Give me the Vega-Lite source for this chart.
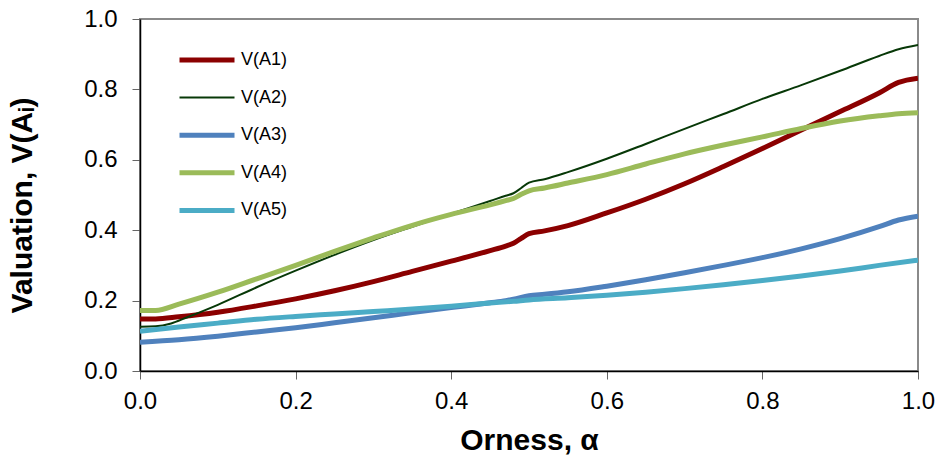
{
  "$schema": "https://vega.github.io/schema/vega-lite/v6.json",
  "width": 778,
  "height": 352,
  "autosize": {"type": "none"},
  "padding": {"left": 140, "top": 19, "right": 19, "bottom": 90},
  "background": "white",
  "config": {
    "font": "Liberation Sans",
    "view": {"stroke": "#8a8a8a", "strokeWidth": 2}
  },
  "data": {
    "values": [
      {"a": 0, "s": "V(A1)", "v": 0.148}, {"a": 0.02, "s": "V(A1)", "v": 0.148}, {"a": 0.05, "s": "V(A1)", "v": 0.154}, {"a": 0.1, "s": "V(A1)", "v": 0.167}, {"a": 0.15, "s": "V(A1)", "v": 0.185}, {"a": 0.2, "s": "V(A1)", "v": 0.205}, {"a": 0.25, "s": "V(A1)", "v": 0.228}, {"a": 0.3, "s": "V(A1)", "v": 0.254}, {"a": 0.35, "s": "V(A1)", "v": 0.283}, {"a": 0.4, "s": "V(A1)", "v": 0.312}, {"a": 0.45, "s": "V(A1)", "v": 0.342}, {"a": 0.47, "s": "V(A1)", "v": 0.355}, {"a": 0.48, "s": "V(A1)", "v": 0.363}, {"a": 0.49, "s": "V(A1)", "v": 0.377}, {"a": 0.5, "s": "V(A1)", "v": 0.39}, {"a": 0.52, "s": "V(A1)", "v": 0.398}, {"a": 0.55, "s": "V(A1)", "v": 0.413}, {"a": 0.6, "s": "V(A1)", "v": 0.449}, {"a": 0.65, "s": "V(A1)", "v": 0.488}, {"a": 0.7, "s": "V(A1)", "v": 0.532}, {"a": 0.75, "s": "V(A1)", "v": 0.581}, {"a": 0.8, "s": "V(A1)", "v": 0.632}, {"a": 0.85, "s": "V(A1)", "v": 0.685}, {"a": 0.9, "s": "V(A1)", "v": 0.737}, {"a": 0.95, "s": "V(A1)", "v": 0.79}, {"a": 0.975, "s": "V(A1)", "v": 0.82}, {"a": 1, "s": "V(A1)", "v": 0.832},
      {"a": 0, "s": "V(A2)", "v": 0.126}, {"a": 0.02, "s": "V(A2)", "v": 0.127}, {"a": 0.04, "s": "V(A2)", "v": 0.135}, {"a": 0.06, "s": "V(A2)", "v": 0.152}, {"a": 0.1, "s": "V(A2)", "v": 0.188}, {"a": 0.15, "s": "V(A2)", "v": 0.238}, {"a": 0.2, "s": "V(A2)", "v": 0.285}, {"a": 0.25, "s": "V(A2)", "v": 0.33}, {"a": 0.3, "s": "V(A2)", "v": 0.372}, {"a": 0.35, "s": "V(A2)", "v": 0.41}, {"a": 0.4, "s": "V(A2)", "v": 0.447}, {"a": 0.45, "s": "V(A2)", "v": 0.483}, {"a": 0.47, "s": "V(A2)", "v": 0.498}, {"a": 0.48, "s": "V(A2)", "v": 0.505}, {"a": 0.49, "s": "V(A2)", "v": 0.52}, {"a": 0.5, "s": "V(A2)", "v": 0.535}, {"a": 0.52, "s": "V(A2)", "v": 0.545}, {"a": 0.55, "s": "V(A2)", "v": 0.565}, {"a": 0.6, "s": "V(A2)", "v": 0.603}, {"a": 0.65, "s": "V(A2)", "v": 0.645}, {"a": 0.7, "s": "V(A2)", "v": 0.688}, {"a": 0.75, "s": "V(A2)", "v": 0.73}, {"a": 0.8, "s": "V(A2)", "v": 0.773}, {"a": 0.85, "s": "V(A2)", "v": 0.812}, {"a": 0.9, "s": "V(A2)", "v": 0.853}, {"a": 0.95, "s": "V(A2)", "v": 0.895}, {"a": 0.975, "s": "V(A2)", "v": 0.914}, {"a": 1, "s": "V(A2)", "v": 0.926},
      {"a": 0, "s": "V(A3)", "v": 0.082}, {"a": 0.05, "s": "V(A3)", "v": 0.089}, {"a": 0.1, "s": "V(A3)", "v": 0.099}, {"a": 0.15, "s": "V(A3)", "v": 0.111}, {"a": 0.2, "s": "V(A3)", "v": 0.123}, {"a": 0.25, "s": "V(A3)", "v": 0.137}, {"a": 0.3, "s": "V(A3)", "v": 0.151}, {"a": 0.35, "s": "V(A3)", "v": 0.166}, {"a": 0.4, "s": "V(A3)", "v": 0.18}, {"a": 0.45, "s": "V(A3)", "v": 0.194}, {"a": 0.47, "s": "V(A3)", "v": 0.2}, {"a": 0.48, "s": "V(A3)", "v": 0.204}, {"a": 0.5, "s": "V(A3)", "v": 0.214}, {"a": 0.52, "s": "V(A3)", "v": 0.218}, {"a": 0.55, "s": "V(A3)", "v": 0.225}, {"a": 0.6, "s": "V(A3)", "v": 0.241}, {"a": 0.65, "s": "V(A3)", "v": 0.259}, {"a": 0.7, "s": "V(A3)", "v": 0.279}, {"a": 0.75, "s": "V(A3)", "v": 0.3}, {"a": 0.8, "s": "V(A3)", "v": 0.322}, {"a": 0.85, "s": "V(A3)", "v": 0.347}, {"a": 0.9, "s": "V(A3)", "v": 0.376}, {"a": 0.95, "s": "V(A3)", "v": 0.41}, {"a": 0.975, "s": "V(A3)", "v": 0.429}, {"a": 1, "s": "V(A3)", "v": 0.44},
      {"a": 0, "s": "V(A4)", "v": 0.172}, {"a": 0.02, "s": "V(A4)", "v": 0.172}, {"a": 0.05, "s": "V(A4)", "v": 0.19}, {"a": 0.1, "s": "V(A4)", "v": 0.224}, {"a": 0.15, "s": "V(A4)", "v": 0.262}, {"a": 0.2, "s": "V(A4)", "v": 0.3}, {"a": 0.25, "s": "V(A4)", "v": 0.34}, {"a": 0.3, "s": "V(A4)", "v": 0.378}, {"a": 0.35, "s": "V(A4)", "v": 0.414}, {"a": 0.4, "s": "V(A4)", "v": 0.445}, {"a": 0.45, "s": "V(A4)", "v": 0.472}, {"a": 0.47, "s": "V(A4)", "v": 0.484}, {"a": 0.48, "s": "V(A4)", "v": 0.49}, {"a": 0.49, "s": "V(A4)", "v": 0.502}, {"a": 0.5, "s": "V(A4)", "v": 0.512}, {"a": 0.52, "s": "V(A4)", "v": 0.52}, {"a": 0.55, "s": "V(A4)", "v": 0.534}, {"a": 0.6, "s": "V(A4)", "v": 0.558}, {"a": 0.65, "s": "V(A4)", "v": 0.588}, {"a": 0.7, "s": "V(A4)", "v": 0.617}, {"a": 0.75, "s": "V(A4)", "v": 0.642}, {"a": 0.8, "s": "V(A4)", "v": 0.665}, {"a": 0.85, "s": "V(A4)", "v": 0.689}, {"a": 0.9, "s": "V(A4)", "v": 0.71}, {"a": 0.95, "s": "V(A4)", "v": 0.725}, {"a": 0.975, "s": "V(A4)", "v": 0.731}, {"a": 1, "s": "V(A4)", "v": 0.734},
      {"a": 0, "s": "V(A5)", "v": 0.113}, {"a": 0.05, "s": "V(A5)", "v": 0.125}, {"a": 0.1, "s": "V(A5)", "v": 0.136}, {"a": 0.15, "s": "V(A5)", "v": 0.147}, {"a": 0.2, "s": "V(A5)", "v": 0.155}, {"a": 0.25, "s": "V(A5)", "v": 0.162}, {"a": 0.3, "s": "V(A5)", "v": 0.169}, {"a": 0.35, "s": "V(A5)", "v": 0.176}, {"a": 0.4, "s": "V(A5)", "v": 0.184}, {"a": 0.45, "s": "V(A5)", "v": 0.193}, {"a": 0.48, "s": "V(A5)", "v": 0.198}, {"a": 0.5, "s": "V(A5)", "v": 0.202}, {"a": 0.55, "s": "V(A5)", "v": 0.208}, {"a": 0.6, "s": "V(A5)", "v": 0.215}, {"a": 0.65, "s": "V(A5)", "v": 0.224}, {"a": 0.7, "s": "V(A5)", "v": 0.234}, {"a": 0.75, "s": "V(A5)", "v": 0.245}, {"a": 0.8, "s": "V(A5)", "v": 0.257}, {"a": 0.85, "s": "V(A5)", "v": 0.27}, {"a": 0.9, "s": "V(A5)", "v": 0.284}, {"a": 0.95, "s": "V(A5)", "v": 0.3}, {"a": 1, "s": "V(A5)", "v": 0.315}
    ]
  },
  "mark": {"type": "line", "interpolate": "monotone", "clip": true},
  "encoding": {
    "x": {
      "field": "a", "type": "quantitative",
      "scale": {"domain": [0, 1], "nice": false, "zero": false},
      "axis": {
        "title": "Orness, α",
        "values": [0, 0.2, 0.4, 0.6, 0.8, 1],
        "format": ".1f",
        "grid": false,
        "domainColor": "black", "domainWidth": 1.5,
        "tickColor": "#666", "tickSize": 8, "tickWidth": 1,
        "labelFont": "Liberation Sans", "labelFontSize": 24, "labelColor": "black", "labelPadding": 10,
        "labelFlush": false,
        "titleFont": "Liberation Sans", "titleFontSize": 30, "titleFontWeight": "bold", "titleColor": "black", "titlePadding": 12
      }
    },
    "y": {
      "field": "v", "type": "quantitative",
      "scale": {"domain": [0, 1], "nice": false, "zero": false},
      "axis": {
        "title": "Valuation, V(Aᵢ)",
        "values": [0, 0.2, 0.4, 0.6, 0.8, 1],
        "format": ".1f",
        "grid": false,
        "domainColor": "black", "domainWidth": 1.5,
        "tickColor": "#666", "tickSize": 8, "tickWidth": 1,
        "labelFont": "Liberation Sans", "labelFontSize": 24, "labelColor": "black", "labelPadding": 15,
        "labelFlush": false,
        "titleFont": "Liberation Sans", "titleFontSize": 30, "titleFontWeight": "bold", "titleColor": "black", "titlePadding": 46,
        "titleY": 186
      }
    },
    "color": {
      "field": "s", "type": "nominal",
      "scale": {
        "domain": ["V(A1)", "V(A2)", "V(A3)", "V(A4)", "V(A5)"],
        "range": ["#8B0000", "#073807", "#4F81BD", "#9BBB59", "#4BACC6"]
      },
      "legend": {
        "title": null,
        "orient": "none",
        "legendX": 37,
        "legendY": 31,
        "padding": 0,
        "symbolType": "stroke",
        "symbolSize": 3025,
        "clipHeight": 20,
        "rowPadding": 17.6,
        "labelFont": "Liberation Sans",
        "labelFontSize": 18,
        "labelColor": "black",
        "labelOffset": 4
      }
    },
    "strokeWidth": {
      "field": "s", "type": "nominal",
      "scale": {
        "type": "ordinal",
        "domain": ["V(A1)", "V(A2)", "V(A3)", "V(A4)", "V(A5)"],
        "range": [5, 2, 5, 5, 5]
      },
      "legend": {
        "title": null,
        "orient": "none",
        "legendX": 37,
        "legendY": 31,
        "padding": 0,
        "symbolType": "stroke",
        "symbolSize": 3025,
        "clipHeight": 20,
        "rowPadding": 17.6,
        "labelFont": "Liberation Sans",
        "labelFontSize": 18,
        "labelColor": "black",
        "labelOffset": 4
      }
    }
  }
}
